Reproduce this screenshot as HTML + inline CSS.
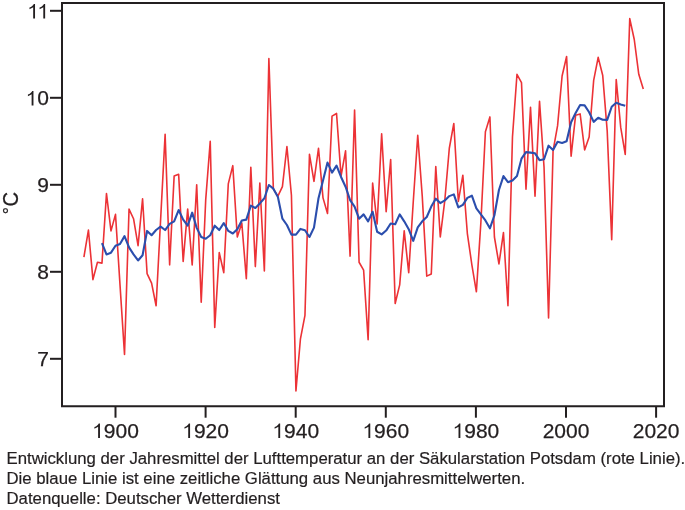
<!DOCTYPE html>
<html><head><meta charset="utf-8"><style>
html,body{margin:0;padding:0;background:#fff;}
body{width:685px;height:510px;overflow:hidden;position:relative;}
svg{position:absolute;left:0;top:0;will-change:transform;}
text{font-family:"Liberation Sans",sans-serif;}
</style></head><body>
<svg width="685" height="510" viewBox="0 0 685 510">
<g fill="none" stroke="#231f20" stroke-width="2" stroke-linecap="butt">
<path d="M62 3.05 H664 V406.2 H62 Z" stroke-linejoin="miter"/>
<path d="M50 358.80 H62"/>
<path d="M50 271.80 H62"/>
<path d="M50 184.80 H62"/>
<path d="M50 97.80 H62"/>
<path d="M50 10.80 H62"/>
<path d="M115.50 406.2 V417.7"/>
<path d="M205.60 406.2 V417.7"/>
<path d="M295.70 406.2 V417.7"/>
<path d="M385.80 406.2 V417.7"/>
<path d="M475.90 406.2 V417.7"/>
<path d="M566.00 406.2 V417.7"/>
<path d="M656.10 406.2 V417.7"/>
</g>
<g font-size="21" fill="#231f20" stroke="#231f20" stroke-width="0.25">
<text x="37.32" y="366.40">7</text>
<text x="37.32" y="279.40">8</text>
<text x="37.32" y="192.40">9</text>
<path transform="translate(25.64 105.40) scale(0.010254 -0.009813)" d="M763 0L583 0L583 1147Q518 1085 412 1023Q306 961 222 930L222 1104Q373 1175 486 1276Q599 1377 646 1472L763 1472Z"/><text x="37.32" y="105.40">0</text>
<path transform="translate(27.20 18.40) scale(0.010254 -0.009813)" d="M763 0L583 0L583 1147Q518 1085 412 1023Q306 961 222 930L222 1104Q373 1175 486 1276Q599 1377 646 1472L763 1472Z"/><path transform="translate(37.32 18.40) scale(0.010254 -0.009813)" d="M763 0L583 0L583 1147Q518 1085 412 1023Q306 961 222 930L222 1104Q373 1175 486 1276Q599 1377 646 1472L763 1472Z"/>
<path transform="translate(92.14 437.90) scale(0.010254 -0.009813)" d="M763 0L583 0L583 1147Q518 1085 412 1023Q306 961 222 930L222 1104Q373 1175 486 1276Q599 1377 646 1472L763 1472Z"/><text x="103.82" y="437.90">9</text><text x="115.50" y="437.90">0</text><text x="127.18" y="437.90">0</text>
<path transform="translate(182.24 437.90) scale(0.010254 -0.009813)" d="M763 0L583 0L583 1147Q518 1085 412 1023Q306 961 222 930L222 1104Q373 1175 486 1276Q599 1377 646 1472L763 1472Z"/><text x="193.92" y="437.90">9</text><text x="205.60" y="437.90">2</text><text x="217.28" y="437.90">0</text>
<path transform="translate(272.34 437.90) scale(0.010254 -0.009813)" d="M763 0L583 0L583 1147Q518 1085 412 1023Q306 961 222 930L222 1104Q373 1175 486 1276Q599 1377 646 1472L763 1472Z"/><text x="284.02" y="437.90">9</text><text x="295.70" y="437.90">4</text><text x="307.38" y="437.90">0</text>
<path transform="translate(362.44 437.90) scale(0.010254 -0.009813)" d="M763 0L583 0L583 1147Q518 1085 412 1023Q306 961 222 930L222 1104Q373 1175 486 1276Q599 1377 646 1472L763 1472Z"/><text x="374.12" y="437.90">9</text><text x="385.80" y="437.90">6</text><text x="397.48" y="437.90">0</text>
<path transform="translate(452.54 437.90) scale(0.010254 -0.009813)" d="M763 0L583 0L583 1147Q518 1085 412 1023Q306 961 222 930L222 1104Q373 1175 486 1276Q599 1377 646 1472L763 1472Z"/><text x="464.22" y="437.90">9</text><text x="475.90" y="437.90">8</text><text x="487.58" y="437.90">0</text>
<text x="542.64" y="437.90">2</text><text x="554.32" y="437.90">0</text><text x="566.00" y="437.90">0</text><text x="577.68" y="437.90">0</text>
<text x="632.74" y="437.90">2</text><text x="644.42" y="437.90">0</text><text x="656.10" y="437.90">2</text><text x="667.78" y="437.90">0</text>
<text transform="translate(17.95 206.55) rotate(-90) scale(0.92 1)" font-size="22">C</text>
<text transform="translate(16.0 214.15) rotate(-90)" font-size="18">°</text>
</g>
<polyline points="83.92,257.01 88.43,230.04 92.94,279.63 97.46,262.23 101.97,263.10 106.48,193.50 110.99,230.91 115.50,214.38 120.01,284.85 124.52,354.45 129.03,209.16 133.54,218.73 138.06,245.70 142.57,198.72 147.08,273.54 151.59,283.11 156.10,305.73 160.61,219.60 165.12,134.34 169.63,264.84 174.14,176.10 178.65,174.36 183.17,261.36 187.68,209.16 192.19,264.84 196.70,184.80 201.21,302.25 205.72,199.59 210.23,141.30 214.74,327.48 219.25,252.66 223.76,272.67 228.28,183.93 232.79,165.66 237.30,237.00 241.81,223.08 246.32,278.76 250.83,167.40 255.34,266.58 259.85,183.06 264.36,270.93 268.87,58.65 273.38,189.15 277.90,196.11 282.41,186.54 286.92,146.52 291.43,195.24 295.94,390.99 300.45,338.79 304.96,315.30 309.47,154.35 313.98,181.32 318.50,148.26 323.01,197.85 327.52,213.51 332.03,116.07 336.54,113.46 341.05,176.10 345.56,150.87 350.07,256.14 354.58,109.98 359.09,262.23 363.61,270.06 368.12,339.66 372.63,183.06 377.14,223.95 381.65,133.90 386.16,211.77 390.67,159.57 395.18,303.56 399.69,284.85 404.20,230.91 408.72,272.67 413.23,202.20 417.74,135.21 422.25,196.11 426.76,276.15 431.27,273.98 435.78,166.53 440.29,237.00 444.80,200.46 449.31,148.26 453.82,123.46 458.34,201.33 462.85,175.23 467.36,233.52 471.87,264.84 476.38,291.81 480.89,222.21 485.40,131.73 489.91,116.94 494.42,237.00 498.94,263.97 503.45,232.65 507.96,305.73 512.47,136.95 516.98,74.31 521.49,82.57 526.00,189.15 530.51,107.37 535.02,196.11 539.53,101.28 544.05,167.40 548.56,317.91 553.07,150.87 557.58,125.64 562.09,76.05 566.60,56.48 571.11,156.09 575.62,115.20 580.13,113.90 584.64,150.00 589.15,136.95 593.67,80.40 598.18,57.35 602.69,75.18 607.20,130.86 611.71,239.61 616.22,79.53 620.73,127.38 625.24,154.35 629.75,18.63 634.26,39.51 638.78,74.31 643.29,89.10" fill="none" stroke="#ec3236" stroke-width="1.6" stroke-linejoin="round"/>
<polyline points="101.97,243.09 106.48,254.40 110.99,252.66 115.50,245.70 120.01,243.96 124.52,236.13 129.03,247.44 133.54,254.40 138.06,260.49 142.57,255.27 147.08,230.91 151.59,235.26 156.10,230.04 160.61,226.56 165.12,230.04 169.63,223.95 174.14,221.34 178.65,210.03 183.17,219.60 187.68,225.69 192.19,212.64 196.70,227.86 201.21,237.00 205.72,238.74 210.23,235.26 214.74,225.69 219.25,230.04 223.76,223.08 228.28,230.91 232.79,233.52 237.30,229.17 241.81,220.47 246.32,219.60 250.83,205.68 255.34,208.03 259.85,203.42 264.36,198.28 268.87,184.97 273.38,188.63 277.90,196.98 282.41,218.73 286.92,224.99 291.43,234.65 295.94,234.65 300.45,228.91 304.96,230.21 309.47,237.00 313.98,227.60 318.50,198.28 323.01,180.45 327.52,162.61 332.03,172.62 336.54,165.66 341.05,176.97 345.56,186.71 350.07,200.03 354.58,206.55 359.09,218.73 363.61,214.38 368.12,221.34 372.63,211.77 377.14,231.78 381.65,234.39 386.16,230.56 390.67,223.52 395.18,224.21 399.69,214.38 404.20,221.34 408.72,229.17 413.23,240.83 417.74,227.43 422.25,221.34 426.76,216.99 431.27,206.55 435.78,198.72 440.29,203.07 444.80,200.46 449.31,196.11 453.82,194.37 458.34,207.42 462.85,204.81 467.36,197.85 471.87,195.68 476.38,208.29 480.89,214.38 485.40,220.47 489.91,228.30 494.42,215.25 498.94,190.02 503.45,176.10 507.96,182.19 512.47,180.45 516.98,176.10 521.49,158.70 526.00,152.09 530.51,152.61 535.02,153.31 539.53,160.18 544.05,159.22 548.56,145.65 553.07,150.00 557.58,141.74 562.09,143.04 566.60,141.30 571.11,122.16 575.62,113.03 580.13,104.93 584.64,105.37 589.15,112.24 593.67,121.90 598.18,117.81 602.69,119.81 607.20,119.90 611.71,106.76 616.22,102.76 620.73,104.41 625.24,105.80" fill="none" stroke="#2b4ead" stroke-width="2.1" stroke-linejoin="round"/>
<g font-size="16.75" fill="#231f20" stroke="#231f20" stroke-width="0.2">
<text x="6.5" y="464.1">Entwicklung der Jahresmittel der Lufttemperatur an der Säkularstation Potsdam (rote Linie).</text>
<text x="6.5" y="484.1">Die blaue Linie ist eine zeitliche Glättung aus Neunjahresmittelwerten.</text>
<text x="6.5" y="504.2">Datenquelle: Deutscher Wetterdienst</text>
</g>
</svg>
</body></html>
